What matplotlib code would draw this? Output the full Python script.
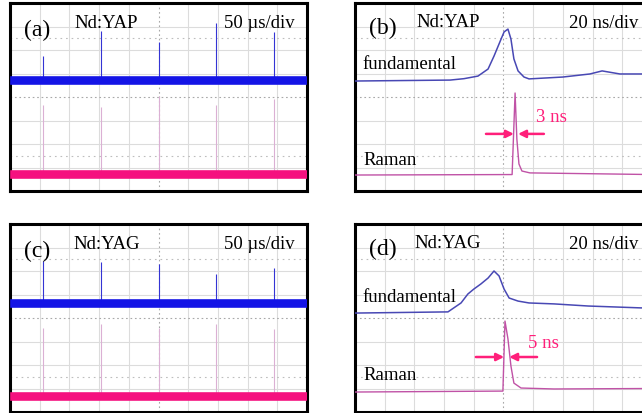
import matplotlib
matplotlib.use("Agg")
import matplotlib.pyplot as plt

plt.rcParams['font.family'] = ['Liberation Serif', 'DejaVu Serif']

# ---- data (divisions: x 0..10, y 0..8) ----
spike_x = [1.1, 3.05, 5.0, 6.95, 8.9]

a_blue_level = 4.72
a_blue_tops = [5.74, 6.81, 6.34, 7.15, 6.77]
a_pink_level = 0.72
a_pink_tops = [3.66, 3.57, 4.04, 3.66, 3.91]

c_blue_level = 4.64
c_blue_tops = [6.43, 6.38, 6.30, 5.87, 6.13]
c_pink_level = 0.68
c_pink_tops = [3.57, 3.74, 3.57, 3.74, 3.53]

b_fund_t = [0, 3.2, 3.67, 4.14, 4.48, 4.68, 4.92, 5.02, 5.15, 5.25, 5.35, 5.49,
            5.69, 5.86, 7.0, 7.91, 8.32, 8.92, 10]
b_fund_v = [4.68, 4.72, 4.78, 4.89, 5.19, 5.74, 6.47, 6.77, 6.89, 6.47, 5.62, 5.11,
            4.85, 4.77, 4.85, 4.98, 5.11, 4.98, 4.98]
b_raman_t = [0, 5.29, 5.39, 5.45, 5.52, 5.62, 5.89, 10]
b_raman_v = [0.68, 0.70, 4.17, 2.21, 1.15, 0.85, 0.77, 0.70]

d_fund_t = [0, 3.13, 3.57, 3.80, 4.0, 4.24, 4.48, 4.68, 4.85, 5.02, 5.19, 5.49,
            5.86, 6.70, 7.85, 9.63, 10]
d_fund_v = [4.21, 4.26, 4.64, 5.02, 5.23, 5.45, 5.70, 6.0, 5.79, 5.23, 4.85, 4.72,
            4.64, 4.60, 4.51, 4.43, 4.43]
d_raman_t = [0, 4.98, 5.05, 5.15, 5.25, 5.35, 5.59, 6.7, 10]
d_raman_v = [0.85, 0.89, 3.87, 3.11, 1.96, 1.23, 1.02, 0.98, 1.0]

# annotation: pulse-width markers (x start, x end of each arrow, y)
b_arrow = dict(left=(4.41, 5.35), right=(6.36, 5.49), y=2.43, label="3 ns")
d_arrow = dict(left=(4.07, 5.02), right=(6.13, 5.19), y=2.34, label="5 ns")

BLUE = "#1414e6"
PINK = "#f5117f"
PINK_SPIKE = "#dbb0d4"
BLUE_SPIKE = "#3434d4"
FUND = "#4848b4"
RAMAN = "#c052a6"
ANNOT = "#ff1f7a"

W, H = 642, 414
fig = plt.figure(figsize=(W / 100, H / 100), dpi=100)


def make_ax(x0, y_top, w=297, h=188):
    ax = fig.add_axes([x0 / W, 1 - (y_top + h) / H, w / W, h / H])
    ax.set_xlim(0, 10)
    ax.set_ylim(0, 8)
    ax.set_xticks([])
    ax.set_yticks([])
    for s in ax.spines.values():
        s.set_linewidth(2.2)
        s.set_color("black")
    for i in range(1, 10):
        if i == 5:
            ax.axvline(i, color="#a8a8a8", lw=0.8, ls=(0, (1.5, 2.5)), zorder=0)
        else:
            ax.axvline(i, color="#dcdcdc", lw=0.8, zorder=0)
    for j in range(1, 8):
        if j == 4:
            ax.axhline(j, color="#a8a8a8", lw=0.8, ls=(0, (1.5, 2.5)), zorder=0)
        else:
            ax.axhline(j, color="#dcdcdc", lw=0.8, zorder=0)
    for j in (1.5, 6.5):
        ax.axhline(j, color="#bdbdbd", lw=0.8, ls=(0, (1.5, 3.5)), zorder=0)
    return ax


def train_panel(ax, blue_level, blue_tops, pink_level, pink_tops, letter, crystal, scale):
    ax.vlines(spike_x, pink_level, pink_tops, color=PINK_SPIKE, lw=0.8, zorder=2)
    ax.vlines(spike_x, blue_level, blue_tops, color=BLUE_SPIKE, lw=0.8, zorder=2)
    ax.axhline(blue_level, xmin=0.012, xmax=0.988, color=BLUE, lw=6.2, zorder=3)
    ax.axhline(pink_level, xmin=0.012, xmax=0.988, color=PINK, lw=6.2, zorder=3)
    ax.text(0.091, 0.86, letter, transform=ax.transAxes, fontsize=17,
            ha="center", va="center")
    ax.text(0.325, 0.895, crystal, transform=ax.transAxes, fontsize=13.5,
            ha="center", va="center")
    ax.text(0.960, 0.895, scale, transform=ax.transAxes, fontsize=13.5,
            ha="right", va="center")


def pulse_panel(ax, ft, fv, rt, rv, letter, crystal):
    ax.plot(ft, fv, color=FUND, lw=1.1, zorder=3)
    ax.plot(rt, rv, color=RAMAN, lw=1.0, zorder=3)
    ax.text(0.095, 0.868, letter, transform=ax.transAxes, fontsize=17,
            ha="center", va="center")
    ax.text(0.313, 0.899, crystal, transform=ax.transAxes, fontsize=13.5,
            ha="center", va="center")
    ax.text(0.953, 0.894, "20 ns/div", transform=ax.transAxes, fontsize=13.5,
            ha="right", va="center")
    return ax


ax_a = make_ax(10, 4)
train_panel(ax_a, a_blue_level, a_blue_tops, a_pink_level, a_pink_tops,
            "(a)", "Nd:YAP", "50 µs/div")

ax_c = make_ax(10, 225)
train_panel(ax_c, c_blue_level, c_blue_tops, c_pink_level, c_pink_tops,
            "(c)", "Nd:YAG", "50 µs/div")

ax_b = make_ax(355, 4)
pulse_panel(ax_b, b_fund_t, b_fund_v, b_raman_t, b_raman_v, "(b)", "Nd:YAP")
ax_b.text(0.024, 0.676, "fundamental", transform=ax_b.transAxes, fontsize=13.5,
          ha="left", va="center")
ax_b.text(0.027, 0.170, "Raman", transform=ax_b.transAxes, fontsize=13.5,
          ha="left", va="center")
ax_b.text(0.66, 0.394, b_arrow["label"], transform=ax_b.transAxes, fontsize=13.5,
          ha="center", va="center", color=ANNOT)

ax_d = make_ax(355, 225)
pulse_panel(ax_d, d_fund_t, d_fund_v, d_raman_t, d_raman_v, "(d)", "Nd:YAG")
ax_d.text(0.024, 0.617, "fundamental", transform=ax_d.transAxes, fontsize=13.5,
          ha="left", va="center")
ax_d.text(0.027, 0.202, "Raman", transform=ax_d.transAxes, fontsize=13.5,
          ha="left", va="center")
ax_d.text(0.633, 0.372, d_arrow["label"], transform=ax_d.transAxes, fontsize=13.5,
          ha="center", va="center", color=ANNOT)

for ax, arr in ((ax_b, b_arrow), (ax_d, d_arrow)):
    for key in ("left", "right"):
        x0, x1 = arr[key]
        ax.annotate("", xy=(x1, arr["y"]), xytext=(x0, arr["y"]),
                    arrowprops=dict(arrowstyle="-|>", color=ANNOT, lw=1.8,
                                    mutation_scale=11, shrinkA=0, shrinkB=0),
                    zorder=5)

fig.savefig("out.png", dpi=100)
